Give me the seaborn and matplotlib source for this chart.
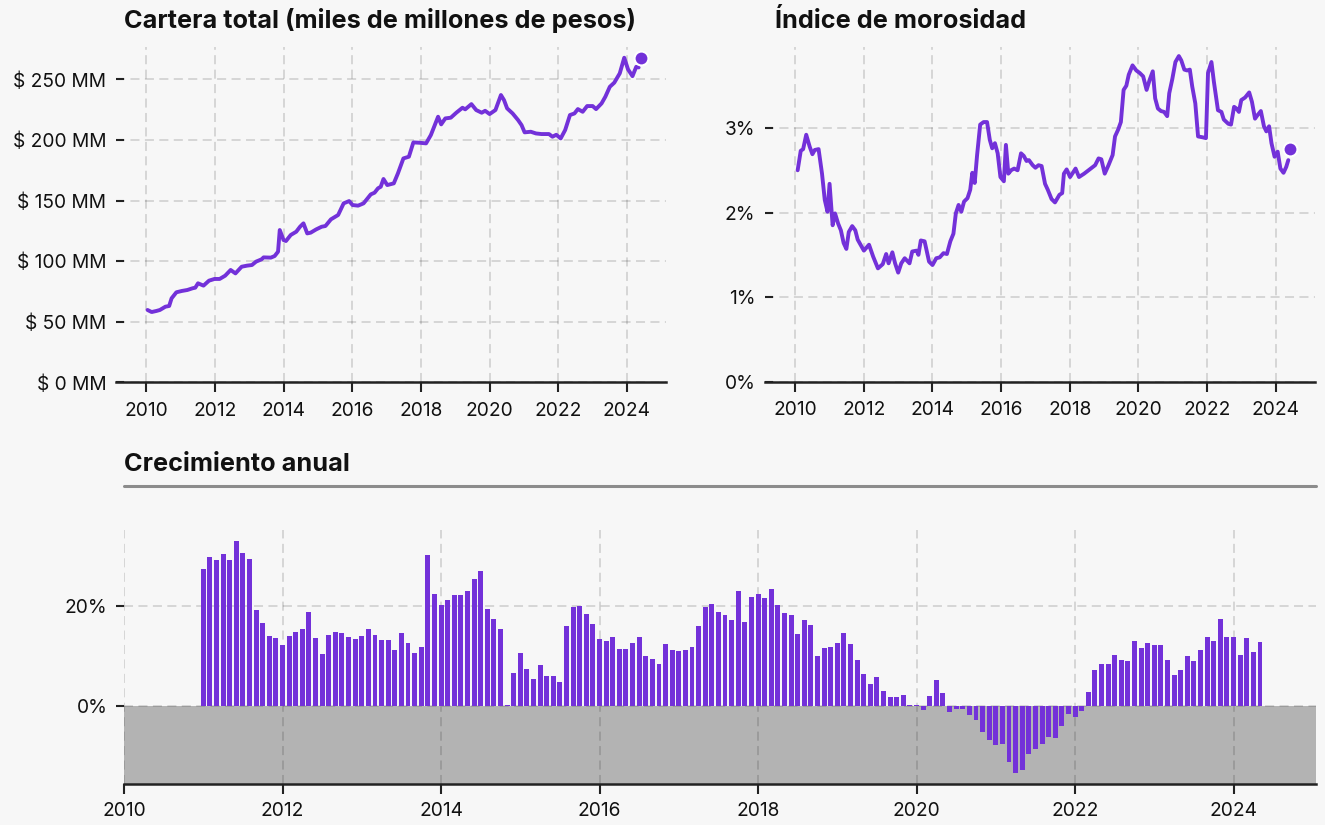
"""
Cartera total, índice de morosidad y crecimiento anual (2010-2024).
"""

import matplotlib.pyplot as plt
import matplotlib.ticker as mticker
import numpy as np
import pandas as pd
import seaborn as sns

# --- datos ---
cartera_t = [2010.04, 2010.16, 2010.30, 2010.40, 2010.56, 2010.67, 2010.74, 2010.88,
             2011.04, 2011.20, 2011.35, 2011.43, 2011.51, 2011.67, 2011.83, 2011.99,
             2012.14, 2012.30, 2012.46, 2012.60, 2012.78, 2012.94, 2013.08, 2013.20,
             2013.36, 2013.42, 2013.63, 2013.74, 2013.84, 2013.89, 2014.00, 2014.07,
             2014.21, 2014.37, 2014.48, 2014.58, 2014.69, 2014.79, 2014.95, 2015.11,
             2015.22, 2015.38, 2015.59, 2015.75, 2015.91, 2016.01, 2016.17, 2016.33,
             2016.54, 2016.65, 2016.75, 2016.83, 2016.91, 2017.02, 2017.21, 2017.33,
             2017.49, 2017.65, 2017.78, 2017.97, 2018.15, 2018.29, 2018.50, 2018.59,
             2018.71, 2018.87, 2019.03, 2019.21, 2019.29, 2019.47, 2019.61, 2019.77,
             2019.87, 2020.00, 2020.17, 2020.33, 2020.42, 2020.51, 2020.67, 2020.83,
             2020.93, 2021.02, 2021.20, 2021.35, 2021.51, 2021.73, 2021.83, 2021.94,
             2022.07, 2022.20, 2022.34, 2022.47, 2022.57, 2022.71, 2022.84, 2023.00,
             2023.10, 2023.26, 2023.37, 2023.50, 2023.63, 2023.79, 2023.92, 2024.03,
             2024.16, 2024.27, 2024.34]
cartera_v = [59.7, 58.0, 58.9, 59.7, 62.4, 63.0, 69.3, 74.3,
             75.4, 76.2, 77.6, 78.1, 81.7, 79.8, 83.9, 85.3,
             85.3, 88.0, 92.7, 89.9, 95.4, 96.3, 96.8, 99.6,
             101.5, 103.1, 102.9, 104.2, 107.8, 125.7, 117.4, 116.6,
             121.6, 124.3, 128.4, 131.2, 122.9, 123.5, 126.2, 128.4,
             129.0, 134.5, 138.1, 147.7, 149.6, 146.3, 145.8, 147.7,
             155.1, 156.5, 160.1, 161.4, 167.8, 162.8, 164.2, 172.4,
             184.8, 186.2, 198.0, 197.7, 197.2, 204.1, 219.2, 212.9,
             217.8, 218.4, 222.5, 226.6, 225.3, 229.6, 224.7, 222.5,
             224.1, 221.4, 224.7, 237.1, 232.9, 226.1, 221.9, 216.4,
             212.3, 206.3, 206.8, 205.4, 204.9, 204.9, 202.7, 204.3,
             201.3, 208.2, 220.6, 221.9, 225.5, 223.3, 228.0, 228.0,
             225.5, 230.2, 235.7, 243.9, 247.3, 255.0, 267.9, 258.3,
             252.7, 260.4, 259.9]
cartera_ultimo = (2024.42, 267.6)

mora_t = [2010.07, 2010.16, 2010.23, 2010.32, 2010.42, 2010.50, 2010.57, 2010.68,
          2010.78, 2010.86, 2010.94, 2011.00, 2011.09, 2011.16, 2011.25, 2011.33,
          2011.41, 2011.49, 2011.56, 2011.66, 2011.75, 2011.82, 2012.00, 2012.15,
          2012.27, 2012.41, 2012.55, 2012.65, 2012.72, 2012.83, 2012.91, 2013.00,
          2013.09, 2013.19, 2013.33, 2013.41, 2013.54, 2013.59, 2013.66, 2013.77,
          2013.90, 2014.00, 2014.11, 2014.21, 2014.32, 2014.42, 2014.52, 2014.61,
          2014.68, 2014.76, 2014.84, 2014.92, 2015.02, 2015.10, 2015.16, 2015.23,
          2015.30, 2015.39, 2015.49, 2015.59, 2015.67, 2015.74, 2015.82, 2015.90,
          2015.98, 2016.08, 2016.14, 2016.21, 2016.29, 2016.38, 2016.48, 2016.58,
          2016.66, 2016.74, 2016.81, 2016.92, 2017.00, 2017.09, 2017.18, 2017.28,
          2017.36, 2017.47, 2017.57, 2017.70, 2017.78, 2017.83, 2017.91, 2018.01,
          2018.17, 2018.27, 2018.42, 2018.58, 2018.74, 2018.84, 2018.92, 2019.02,
          2019.13, 2019.25, 2019.32, 2019.41, 2019.49, 2019.57, 2019.65, 2019.72,
          2019.83, 2019.94, 2020.04, 2020.14, 2020.24, 2020.33, 2020.42, 2020.49,
          2020.57, 2020.66, 2020.75, 2020.84, 2020.90, 2020.99, 2021.08, 2021.18,
          2021.25, 2021.34, 2021.42, 2021.50, 2021.57, 2021.66, 2021.74, 2021.87,
          2021.97, 2022.03, 2022.13, 2022.20, 2022.32, 2022.42, 2022.49, 2022.62,
          2022.70, 2022.79, 2022.86, 2022.93, 2023.00, 2023.11, 2023.23, 2023.31,
          2023.40, 2023.47, 2023.57, 2023.66, 2023.73, 2023.81, 2023.88, 2023.97,
          2024.06, 2024.14, 2024.23, 2024.31, 2024.37]
mora_v = [2.50, 2.73, 2.75, 2.92, 2.78, 2.69, 2.74, 2.75,
          2.46, 2.15, 2.01, 2.34, 1.85, 1.99, 1.87, 1.79,
          1.64, 1.57, 1.77, 1.84, 1.79, 1.68, 1.55, 1.62,
          1.48, 1.34, 1.39, 1.51, 1.40, 1.53, 1.40, 1.29,
          1.40, 1.46, 1.40, 1.54, 1.55, 1.50, 1.67, 1.66,
          1.42, 1.38, 1.46, 1.47, 1.52, 1.51, 1.66, 1.75,
          1.99, 2.09, 2.01, 2.13, 2.17, 2.27, 2.47, 2.35,
          2.68, 3.04, 3.07, 3.07, 2.86, 2.76, 2.82, 2.70,
          2.42, 2.37, 2.80, 2.46, 2.50, 2.52, 2.50, 2.70,
          2.67, 2.61, 2.62, 2.56, 2.53, 2.56, 2.55, 2.34,
          2.27, 2.16, 2.12, 2.21, 2.23, 2.46, 2.51, 2.42,
          2.52, 2.42, 2.46, 2.51, 2.56, 2.64, 2.63, 2.46,
          2.56, 2.68, 2.90, 2.98, 3.07, 3.45, 3.50, 3.63,
          3.74, 3.68, 3.65, 3.61, 3.45, 3.57, 3.67, 3.35,
          3.23, 3.20, 3.19, 3.14, 3.41, 3.58, 3.78, 3.85,
          3.80, 3.69, 3.68, 3.69, 3.49, 3.29, 2.90, 2.89,
          2.88, 3.65, 3.78, 3.55, 3.21, 3.19, 3.10, 3.05,
          3.04, 3.25, 3.23, 3.19, 3.33, 3.36, 3.42, 3.31,
          3.11, 3.15, 3.20, 3.02, 2.96, 3.02, 2.82, 2.66,
          2.72, 2.52, 2.47, 2.54, 2.62]
mora_ultimo = (2024.43, 2.75)

# crecimiento anual mensual, desde enero 2011
crecimiento_inicio = "2011-01"
crecimiento = [27.4, 29.7, 29.2, 30.4, 29.2, 33.0, 30.6, 29.4, 19.1, 16.5, 13.9, 13.5,
               12.1, 13.9, 14.7, 15.3, 18.7, 13.5, 10.3, 14.1, 14.7, 14.5, 13.7, 13.3,
               13.9, 15.3, 14.1, 13.1, 13.1, 11.1, 14.5, 12.5, 10.5, 11.7, 30.2, 22.3,
               20.1, 21.1, 22.1, 22.1, 23.0, 25.4, 27.0, 19.3, 17.3, 15.3, 0.2, 6.6,
               10.5, 7.4, 5.4, 8.1, 6.0, 6.0, 4.8, 15.9, 19.7, 19.9, 18.3, 16.3,
               13.3, 12.9, 13.7, 11.3, 11.3, 12.5, 13.7, 9.9, 9.3, 8.3, 12.3, 11.1,
               10.9, 11.1, 11.7, 15.9, 19.7, 20.3, 18.7, 18.1, 17.1, 23.0, 16.7, 21.7,
               22.3, 21.5, 23.4, 20.1, 18.5, 18.1, 14.3, 17.1, 16.1, 9.9, 11.5, 11.7,
               12.5, 14.5, 12.3, 9.1, 6.4, 4.4, 5.8, 3.0, 1.8, 1.8, 2.2, 0.1,
               0.2, -0.9, 2.0, 5.2, 2.6, -1.3, -0.6, -0.6, -1.9, -2.8, -5.2, -6.8,
               -7.8, -7.6, -11.2, -13.4, -12.8, -9.6, -8.6, -7.6, -6.2, -6.4, -4.0, -1.7,
               -2.3, -1.1, 2.8, 7.2, 8.3, 8.3, 10.1, 9.1, 8.9, 12.9, 11.5, 12.5,
               12.1, 12.1, 9.1, 6.2, 7.2, 9.9, 8.9, 11.1, 13.7, 12.9, 17.3, 13.7,
               13.7, 10.1, 13.5, 10.7, 12.7]

anios_ticks = list(range(2010, 2025, 2))

MORADO = "#7331d9"
FONDO = "#f7f7f7"
GRID = dict(color="black", alpha=0.15, linestyle=(0, (5, 3)), linewidth=1.3)
TICKS = 13.8

sns.set_theme(style="white")
plt.rcParams["font.family"] = ["Inter", "DejaVu Sans"]
plt.rcParams["axes.facecolor"] = "none"


def estilo_linea(ax, yticks, fmt):
    ax.set_xlim(2009.12, 2025.15)
    ax.set_xticks(anios_ticks)
    ax.set_yticks(yticks)
    ax.yaxis.set_major_formatter(mticker.FuncFormatter(fmt))
    ax.grid(True, **GRID)
    ax.set_axisbelow(True)
    for s in ["top", "right", "left"]:
        ax.spines[s].set_visible(False)
    ax.spines["bottom"].set_color("#222222")
    ax.spines["bottom"].set_linewidth(1.8)
    ax.tick_params(axis="y", direction="in", length=6, width=1.5, color="#222222",
                   pad=7, labelsize=TICKS, labelcolor="#111111", left=True)
    ax.tick_params(axis="x", direction="out", length=7, width=1.5, color="#222222",
                   pad=7, labelsize=TICKS, labelcolor="#111111", bottom=True)
    ax.set_xlabel("")
    ax.set_ylabel("")


fig = plt.figure(figsize=(13.25, 8.25), dpi=100, facecolor=FONDO)

# cartera total
ax1 = fig.add_axes([0.0875, 0.5366, 0.4155, 0.4068])
sns.lineplot(x=cartera_t, y=cartera_v, ax=ax1, color=MORADO, linewidth=2.8,
             estimator=None, sort=False)
ax1.plot(*cartera_ultimo, "o", color=MORADO, markersize=10, markeredgecolor="white",
         markeredgewidth=1.5, clip_on=False, zorder=5)
ax1.set_ylim(0, 277)
estilo_linea(ax1, [0, 50, 100, 150, 200, 250], lambda v, p: f"$ {v:.0f} MM")

# índice de morosidad
ax2 = fig.add_axes([0.5774, 0.5373, 0.4151, 0.406])
sns.lineplot(x=mora_t, y=mora_v, ax=ax2, color=MORADO, linewidth=2.8,
             estimator=None, sort=False)
ax2.plot(*mora_ultimo, "o", color=MORADO, markersize=10, markeredgecolor="white",
         markeredgewidth=1.5, clip_on=False, zorder=5)
ax2.set_ylim(0, 3.96)
estilo_linea(ax2, [0, 1, 2, 3], lambda v, p: f"{v:.0f}%")

# crecimiento anual
meses = pd.date_range(crecimiento_inicio, periods=len(crecimiento), freq="MS")
x_meses = np.round(meses.year + (meses.month - 1) / 12, 4)
df = pd.DataFrame({"t": x_meses, "crec": crecimiento})

ax3 = fig.add_axes([0.0936, 0.0497, 0.8996, 0.3079])
ax3.axhspan(-15.6, 0, color="#b3b3b3", zorder=0.5, lw=0)
sns.barplot(data=df, x="t", y="crec", ax=ax3, native_scale=True, color=MORADO,
            saturation=1, width=0.75, linewidth=0, edgecolor="none", zorder=2)
ax3.set_xlim(2010, 2025.04)
ax3.set_ylim(-15.6, 35.2)
ax3.set_xticks(anios_ticks)
ax3.xaxis.set_major_formatter(mticker.FuncFormatter(lambda v, p: f"{v:.0f}"))
ax3.set_yticks([0, 20])
ax3.yaxis.set_major_formatter(mticker.FuncFormatter(lambda v, p: f"{v:.0f}%"))
ax3.grid(True, zorder=1, **GRID)
for s in ["top", "right", "left"]:
    ax3.spines[s].set_visible(False)
ax3.spines["bottom"].set_color("#222222")
ax3.spines["bottom"].set_linewidth(1.8)
ax3.spines["bottom"].set_zorder(3)
ax3.tick_params(axis="y", direction="out", length=6, width=1.5, color="#222222",
                pad=6, labelsize=TICKS, labelcolor="#111111", left=True)
ax3.tick_params(axis="x", direction="out", length=7, width=1.5, color="#222222",
                pad=6, labelsize=TICKS, labelcolor="#111111", bottom=True)
ax3.set_xlabel("")
ax3.set_ylabel("")

# títulos
titulo = dict(fontsize=18.2, fontweight="bold", color="#111111", va="baseline")
fig.text(124 / 1325, 1 - 28 / 825, "Cartera total (miles de millones de pesos)", **titulo)
fig.text(775 / 1325, 1 - 28 / 825, "Índice de morosidad", **titulo)
fig.text(124 / 1325, 1 - 471 / 825, "Crecimiento anual", **titulo)
fig.add_artist(plt.Line2D([124 / 1325, 1316 / 1325], [1 - 486 / 825, 1 - 486 / 825],
                          color="#8c8c8c", linewidth=2.2))

fig.savefig("out.png", dpi=100, facecolor=FONDO)
